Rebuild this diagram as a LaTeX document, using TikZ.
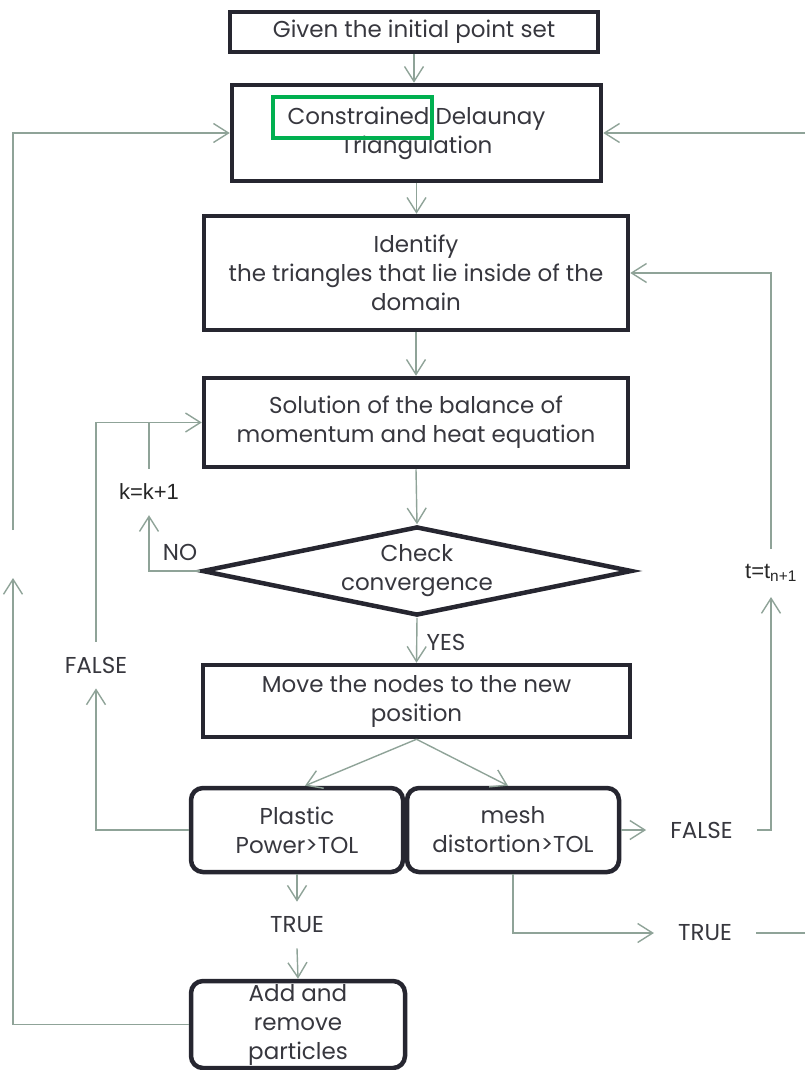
\documentclass[tikz,border=0pt]{standalone}
\usepackage{fontspec}
\setmainfont{Poppins}
\newfontfamily\arialfont{Liberation Sans}
\usetikzlibrary{arrows.meta,shapes.geometric,calc}
\definecolor{boxdark}{RGB}{38,38,48}
\definecolor{flowgray}{RGB}{143,163,152}
\definecolor{txtgray}{RGB}{55,55,62}
\definecolor{markgreen}{RGB}{0,176,80}

\begin{document}
\begin{tikzpicture}[x=1pt,y=-1pt]
            \tikzstyle{every node}+=[inner sep=0pt, text=txtgray, font=\fontsize{23}{29}\selectfont]
            \tikzstyle{stepbox}=[draw=boxdark, line width=4.5pt, align=center]
            \tikzstyle{roundbox}=[stepbox, rounded corners=12pt]
            \tikzstyle{decision}=[stepbox, diamond, aspect=4.83]
            \tikzstyle{tag}=[inner xsep=24pt, inner ysep=15pt]
            \tikzstyle{flow}=[draw=flowgray, line width=1.4pt, -{Straight Barb[length=15pt,width=19pt]}]
            \tikzstyle{wire}=[draw=flowgray, line width=1.4pt]
            \useasboundingbox (0,0) rectangle (805,1070);
            % main column
            \node [stepbox, minimum width=368, minimum height=40] (given) at (414,32) {Given the initial point set};
            \node [stepbox, minimum width=369, minimum height=96] (cdt) at (416.5,133) {Constrained Delaunay\\Triangulation};
            \node [draw=markgreen, line width=3.5pt, minimum width=159, minimum height=41] (mark) at (352.5,117.5) {};
            \node [stepbox, minimum width=424, minimum height=114] (ident) at (416,273) {Identify\\the triangles that lie inside of the\\domain};
            \node [stepbox, minimum width=424, minimum height=89] (solve) at (416,422.5) {Solution of the balance of\\momentum and heat equation};
            \node [decision, minimum width=430, minimum height=89] (check) at (417,571) {Check\\convergence};
            \node [stepbox, minimum width=427, minimum height=72] (move) at (416.5,701) {Move the nodes to the new\\position};
            \node [roundbox, minimum width=212, minimum height=84] (plastic) at (297,830) {Plastic\\Power>TOL};
            \node [roundbox, minimum width=212, minimum height=84] (mesh) at (513,830) {mesh\\distortion>TOL};
            \node [roundbox, minimum width=214, minimum height=87] (addrem) at (298,1024.5) {Add and\\remove\\particles};
            % labels on the connectors
            \node [tag, font=\arialfont\fontsize{22}{24}\selectfont, text=black!85] (kinc) at (149,492) {k=k+1};
            \node [tag, font=\arialfont\fontsize{22}{24}\selectfont, text=black!85] (tinc) at (771,573) {t=t\textsubscript{n+1}};
            \node (no) at (180,552) {NO};
            \node (yes) at (446,642) {YES};
            \node [tag] (false1) at (96,665) {FALSE};
            \node [tag] (false2) at (701.5,830) {FALSE};
            \node [tag] (true1) at (297,925) {TRUE};
            \node [tag] (true2) at (705,933) {TRUE};
            \coordinate (railLlow) at (13,578);
            \coordinate (railLup) at (13,530);
            \coordinate (railR) at (808,933);
            % straight flow
            \draw [flow] (given.south) -- (given.south |- cdt.north);
            \draw [flow] (cdt.south) -- (cdt.south |- ident.north);
            \draw [flow] (ident.south) -- (ident.south |- solve.north);
            \draw [flow] (solve.south) -- (check.north);
            \draw [flow] (check.south) -- (move.north);
            \draw [flow] (move.south) -- ($(plastic.north)+(8,0)$);
            \draw [flow] (move.south) -- ($(mesh.north)+(-5,0)$);
            \draw [flow] (plastic.south) -- (true1.north);
            \draw [flow] (true1.south) -- (addrem.north);
            % inner loop
            \draw [flow] (check.west) -| (kinc.south);
            \draw [wire] (kinc.north) -- (kinc.north |- solve.west);
            \draw [flow] (plastic.west) -| (false1.south);
            \draw [flow] (false1.north) |- (solve.west);
            % time step loop
            \draw [flow] (mesh.east) -- (false2.west);
            \draw [flow] (false2.east) -| (tinc.south);
            \draw [flow] (tinc.north) |- (ident.east);
            % remeshing loops
            \draw [flow] (mesh.south) |- (true2.west);
            \draw [flow] (true2.east) -- (railR) |- (cdt.east);
            \draw [flow] (addrem.west) -| (railLlow);
            \draw [flow] (railLup) |- (cdt.west);
        \end{tikzpicture}
\end{document}
